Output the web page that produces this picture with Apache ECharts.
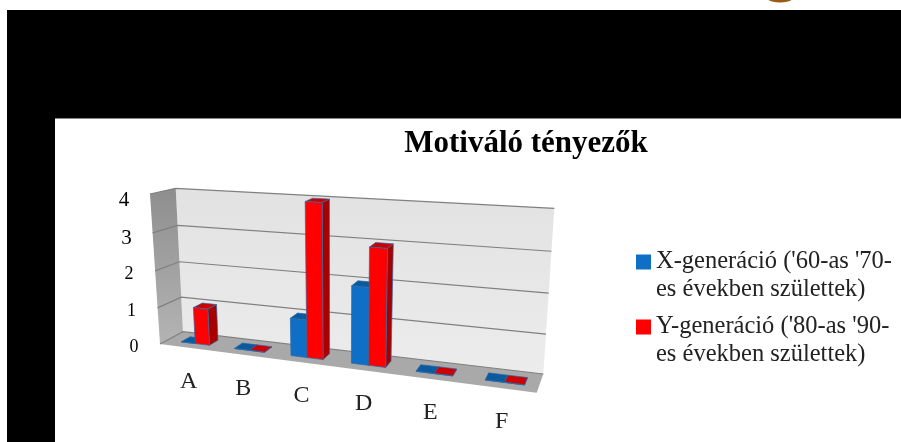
<!DOCTYPE html>
<html>
<head>
<meta charset="utf-8">
<style>html,body{margin:0;padding:0;background:#fff}#main{width:901px;height:442px}</style>
<script src="https://cdn.jsdelivr.net/npm/echarts@6/dist/echarts.min.js"></script>
</head>
<body>
<div id="main"></div>
<script>
var categories = ['A', 'B', 'C', 'D', 'E', 'F'];
var valuesX = [0, 0, 1, 2, 0, 0];
var valuesY = [1, 0, 4, 3, 0, 0];
var yTicks = [0, 1, 2, 3, 4];
var nameX = "X-generáció ('60-as '70-\nes években születtek)";
var nameY = "Y-generáció ('80-as '90-\nes években születtek)";
var titleText = 'Motiváló tényezők';

var SERIF = '"Liberation Serif", serif';

// corners of the 3d box on screen: d=0 back wall, d=1 front edge
var box = {
	l0b: [183, 331.7], l1b: [175.7, 188.3], r0b: [543.3, 374], r1b: [554.3, 208.3],
	l0f: [160, 344], l1f: [150, 194], r0f: [536.7, 392.7], r1f: [547, 221]
};
var kU = 1.22, kV = 1.05; // foreshortening
var depthFront = 0.68, depthBack = 0.28;
var barShare = 0.27;
var barShift = 0.04;

function lerp(a, b, t) {
	return [a[0] + (b[0] - a[0]) * t, a[1] + (b[1] - a[1]) * t];
}
// u,v in 0..1 of the flat grid, d depth -> screen point
function warp(u, v, d) {
	var uu = u / (kU - (kU - 1) * u);
	var vv = v / (kV - (kV - 1) * v);
	var b = lerp(lerp(box.l0b, box.r0b, uu), lerp(box.l1b, box.r1b, uu), vv);
	var f = lerp(lerp(box.l0f, box.r0f, uu), lerp(box.l1f, box.r1f, uu), vv);
	return lerp(b, f, d);
}
function toUnit(params, pt) {
	var c = params.coordSys;
	return [(pt[0] - c.x) / c.width, (c.y + c.height - pt[1]) / c.height];
}
function face(points, fill) {
	return {
		type: 'polygon',
		shape: { points: points },
		style: { fill: fill, stroke: '#2a6aa8', lineWidth: 0.7 }
	};
}
function plain(points, fill) {
	return { type: 'polygon', shape: { points: points }, style: { fill: fill } };
}
function vGrad(top, bottom) {
	return new echarts.graphic.LinearGradient(0, 0, 0, 1, [
		{ offset: 0, color: top },
		{ offset: 1, color: bottom }
	]);
}

function barRender(front, top, side, leftSide) {
	return function(params, api) {
		var p0 = api.coord([api.value(0), 0]);
		var p1 = api.coord([api.value(0), api.value(1)]);
		var size = api.size([1, 0])[0];
		var w = size * barShare;
		var x0 = (leftSide ? p0[0] - w : p0[0]) + size * barShift;
		var x1 = x0 + w;
		var a = toUnit(params, [x0, p0[1]]);
		var b = toUnit(params, [x1, p1[1]]);
		var fl = warp(a[0], a[1], depthFront), fr = warp(b[0], a[1], depthFront);
		var tl = warp(a[0], b[1], depthFront), tr = warp(b[0], b[1], depthFront);
		var bl = warp(a[0], b[1], depthBack), br = warp(b[0], b[1], depthBack);
		var brb = warp(b[0], a[1], depthBack);
		return {
			type: 'group',
			children: [
				face([fr, brb, br, tr], side),
				face([tl, tr, br, bl], top),
				face([fl, fr, tr, tl], front)
			]
		};
	};
}

var option = {
	animation: false,
	backgroundColor: '#ffffff',
	title: {
		text: titleText,
		left: 521,
		top: 123,
		textAlign: 'center',
		textStyle: { fontFamily: SERIF, fontWeight: 'bold', fontSize: 31, color: '#000' }
	},
	legend: {
		orient: 'vertical',
		left: 636,
		top: 220,
		padding: 0,
		itemWidth: 15,
		itemHeight: 15,
		itemGap: -19,
		icon: 'rect',
		data: [nameX, nameY],
		selectedMode: false,
		// a blank first line keeps the swatch level with the first text line
		formatter: function(name) { return '\n' + name; },
		textStyle: { fontFamily: SERIF, fontSize: 24.5, color: '#222', lineHeight: 28 }
	},
	grid: { left: 100, top: 150, width: 400, height: 200, show: false },
	xAxis: { type: 'category', data: categories, show: false },
	yAxis: { type: 'value', min: 0, max: 4, interval: 1, show: false },
	graphic: [
		{ type: 'rect', z: -10, shape: { x: 7, y: 10, width: 894, height: 432 }, style: { fill: '#000' } },
		{ type: 'rect', z: -9, shape: { x: 55, y: 119, width: 846, height: 323 }, style: { fill: '#fff' } },
		{ type: 'rect', z: -9, shape: { x: 55, y: 118, width: 846, height: 1 }, style: { fill: '#888' } },
		{ type: 'ellipse', z: -9, shape: { cx: 780, cy: -2, rx: 13, ry: 4.5 }, style: { fill: '#9a5c14' } }
	],
	series: [
		{
			type: 'custom', name: 'box', silent: true, clip: false, z: 1,
			data: [[0, 0]],
			renderItem: function(params, api) {
				return {
					type: 'group',
					children: [
						plain([warp(0, 0, 0), warp(0, 1, 0), warp(1, 1, 0), warp(1, 0, 0)], vGrad('#e2e2e2', '#ececec')),
						plain([warp(0, 0, 1), warp(0, 1, 1), warp(0, 1, 0), warp(0, 0, 0)], vGrad('#8e8e8e', '#b4b4b4')),
						plain([warp(0, 0, 1), warp(1, 0, 1), warp(1, 0, 0), warp(0, 0, 0)], '#a9a9a9')
					]
				};
			}
		},
		{
			type: 'custom', name: 'gridlines', silent: true, clip: false, z: 2,
			data: yTicks.map(function(t) { return [0, t]; }),
			renderItem: function(params, api) {
				var v = toUnit(params, api.coord([0, api.value(1)]))[1];
				return {
					type: 'polyline',
					shape: { points: [warp(0, v, 1), warp(0, v, 0), warp(1, v, 0)] },
					style: { fill: null, stroke: '#808080', lineWidth: 1.2 }
				};
			}
		},
		{
			type: 'custom', name: 'yLabels', silent: true, clip: false, z: 3,
			data: yTicks.map(function(t) { return [0, t]; }),
			renderItem: function(params, api) {
				var t = api.value(1);
				var v = toUnit(params, api.coord([0, t]))[1];
				var p = warp(0, v, 1);
				// the original face has old style figures: 3 and 4 hang low, 0-2 are small
				var tall = t >= 3;
				return {
					type: 'text',
					style: {
						x: p[0] - 26, y: p[1] + (tall ? 6 : 3), text: String(t),
						fontFamily: SERIF, fontSize: tall ? 21 : 18, fill: '#000',
						textAlign: 'center', textVerticalAlign: 'middle'
					}
				};
			}
		},
		{
			type: 'custom', name: 'xLabels', silent: true, clip: false, z: 3,
			data: categories.map(function(c, i) { return [i, 0]; }),
			renderItem: function(params, api) {
				var i = api.value(0);
				var u = toUnit(params, api.coord([i, 0]))[0];
				var p = warp(u, 0, 1);
				return {
					type: 'text',
					style: {
						x: p[0] + 2.5, y: p[1] + 34, text: categories[i],
						fontFamily: SERIF, fontSize: 24, fill: '#222',
						textAlign: 'center', textVerticalAlign: 'middle'
					}
				};
			}
		},
		{
			type: 'custom', name: nameX, clip: false, z: 4,
			itemStyle: { color: '#0f6fc6' },
			data: valuesX.map(function(v, i) { return [i, v]; }),
			encode: { x: 0, y: 1 },
			renderItem: barRender('#0f6fc6', '#0b5a9e', '#0b5a9e', true)
		},
		{
			type: 'custom', name: nameY, clip: false, z: 5,
			itemStyle: { color: '#ff0000' },
			data: valuesY.map(function(v, i) { return [i, v]; }),
			encode: { x: 0, y: 1 },
			renderItem: barRender('#ff0000', '#cc0000', '#a80000', false)
		}
	]
};

var myChart = echarts.init(document.getElementById('main'));
myChart.setOption(option);
</script>
</body>
</html>
